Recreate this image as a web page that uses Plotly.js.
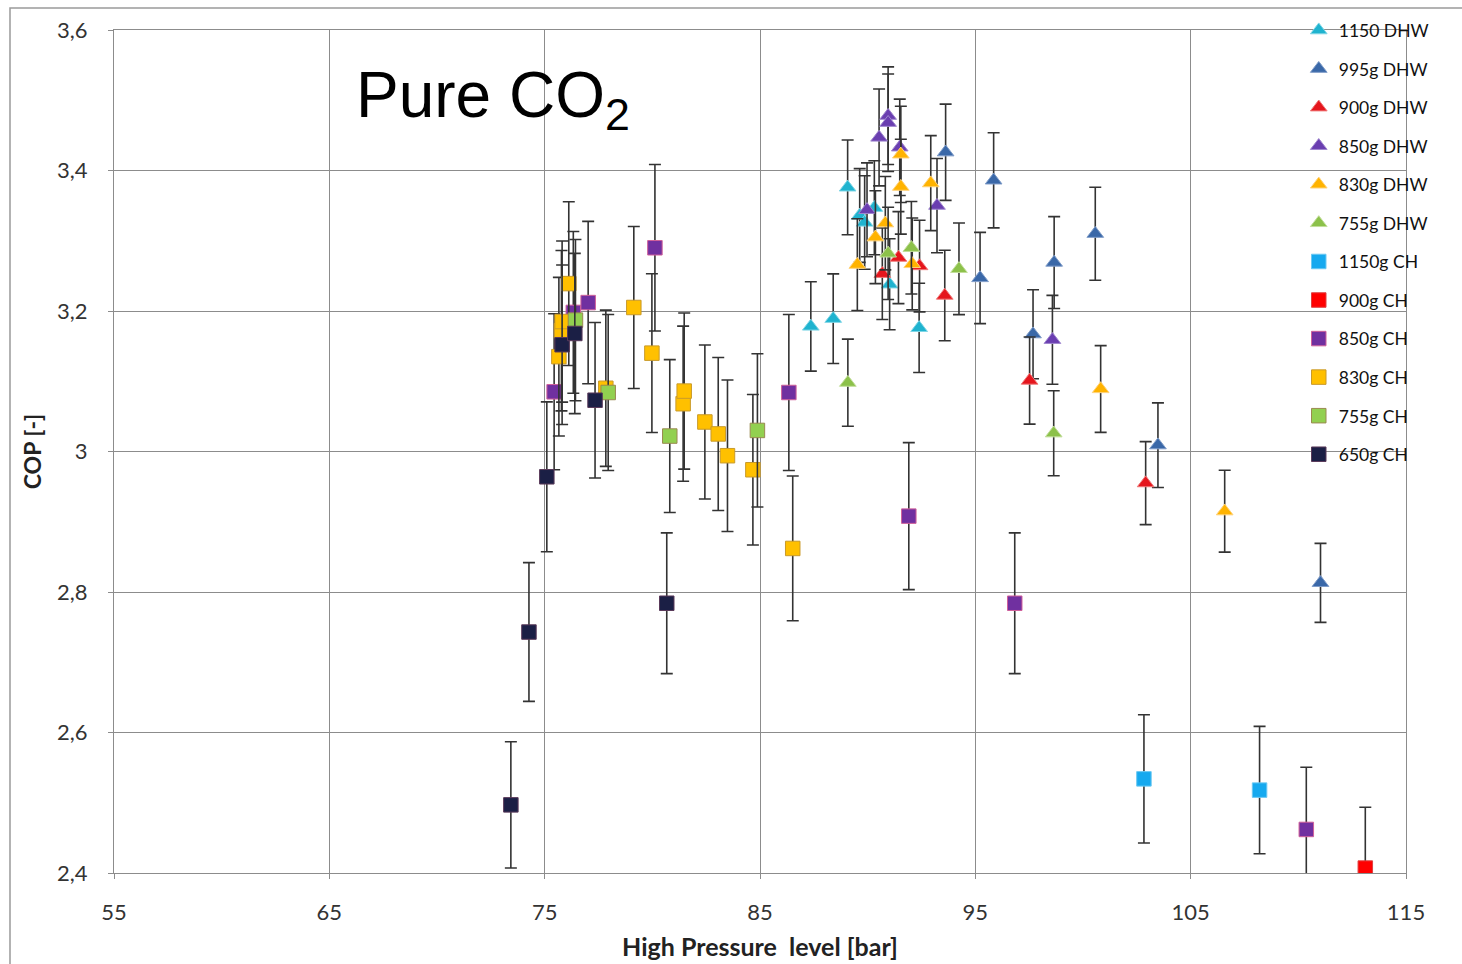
<!DOCTYPE html>
<html>
<head>
<meta charset="utf-8">
<script src="https://cdn.plot.ly/plotly-3.0.1.min.js"></script>
<style>
  html, body { margin: 0; padding: 0; background: #ffffff; }
  #chart { width: 1462px; height: 964px; }
</style>
</head>
<body>
<div id="chart"></div>
<script>
// High-pressure level [bar] and COP for each refrigerant charge / operating mode
const dhw1150_p   = [87.36, 88.40, 89.07, 89.63, 89.86, 90.31, 91.02, 92.39];
const dhw1150_cop = [3.178, 3.189, 3.376, 3.336, 3.326, 3.347, 3.238, 3.176];

const dhw995_p   = [93.62, 95.22, 95.85, 97.68, 98.66, 100.57, 103.48, 111.03];
const dhw995_cop = [3.426, 3.247, 3.386, 3.167, 3.269, 3.310, 3.009, 2.813];

const dhw900_p   = [90.68, 91.43, 92.41, 93.58, 97.52, 102.91];
const dhw900_cop = [3.253, 3.276, 3.264, 3.222, 3.101, 2.955];

const dhw850_p   = [89.97, 90.53, 90.95, 90.95, 91.49, 93.22, 98.58];
const dhw850_cop = [3.344, 3.447, 3.478, 3.468, 3.433, 3.350, 3.159];

const dhw830_p   = [89.52, 90.36, 90.82, 91.54, 91.54, 92.07, 92.93, 100.82, 106.58];
const dhw830_cop = [3.266, 3.305, 3.325, 3.423, 3.377, 3.267, 3.382, 3.089, 2.915];

const dhw755_p   = [89.08, 90.95, 92.03, 94.24, 98.64];
const dhw755_cop = [3.098, 3.282, 3.290, 3.260, 3.026];

const ch1150_p   = [102.83, 108.20];
const ch1150_cop = [2.534, 2.518];

const ch900_p   = [113.11];
const ch900_cop = [2.407];

const ch850_p   = [75.44, 76.33, 77.02, 80.12, 86.34, 91.91, 96.83, 110.37];
const ch850_cop = [3.085, 3.198, 3.212, 3.290, 3.084, 2.908, 2.784, 2.462];

const ch830_p   = [75.66, 75.78, 75.81, 76.12, 77.84, 79.14, 79.98, 81.43, 81.48, 82.44, 83.06, 83.49, 84.67, 86.52];
const ch830_cop = [3.135, 3.172, 3.185, 3.239, 3.090, 3.205, 3.140, 3.068, 3.086, 3.042, 3.025, 2.994, 2.974, 2.862];

const ch755_p   = [76.43, 77.95, 80.81, 84.88];
const ch755_cop = [3.187, 3.084, 3.022, 3.030];

const ch650_p   = [73.43, 74.27, 75.10, 75.81, 76.40, 77.34, 80.67];
const ch650_cop = [2.497, 2.743, 2.964, 3.152, 3.168, 3.073, 2.784];

// Measurement uncertainty, percent of COP
const DHW_ERR_PCT = 2.0;
const CH_ERR_PCT = 3.6;

// Axis ticks
const xTicks = [55, 65, 75, 85, 95, 105, 115];
const yTicks = [2.4, 2.6, 2.8, 3.0, 3.2, 3.4, 3.6];
const yTickText = ['2,4', '2,6', '2,8', '3', '3,2', '3,4', '3,6'];

const series = [
  { name: '1150 DHW', p: dhw1150_p, cop: dhw1150_cop, sym: 'triangle-up', fill: '#1fb3cf', edge: '#7fd6e6', err: DHW_ERR_PCT },
  { name: '995g DHW', p: dhw995_p,  cop: dhw995_cop,  sym: 'triangle-up', fill: '#3a68a8', edge: '#7f9cc8', err: DHW_ERR_PCT },
  { name: '900g DHW', p: dhw900_p,  cop: dhw900_cop,  sym: 'triangle-up', fill: '#e5161d', edge: '#f07a7a', err: DHW_ERR_PCT },
  { name: '850g DHW', p: dhw850_p,  cop: dhw850_cop,  sym: 'triangle-up', fill: '#6a3eb0', edge: '#9f86cf', err: DHW_ERR_PCT },
  { name: '830g DHW', p: dhw830_p,  cop: dhw830_cop,  sym: 'triangle-up', fill: '#ffb300', edge: '#ffd27a', err: DHW_ERR_PCT },
  { name: '755g DHW', p: dhw755_p,  cop: dhw755_cop,  sym: 'triangle-up', fill: '#8cc14a', edge: '#c2de9a', err: DHW_ERR_PCT },
  { name: '1150g CH', p: ch1150_p,  cop: ch1150_cop,  sym: 'square', fill: '#16a9ef', edge: '#6cc8f2', err: CH_ERR_PCT },
  { name: '900g CH',  p: ch900_p,   cop: ch900_cop,   sym: 'square', fill: '#ff0000', edge: '#e04040', err: CH_ERR_PCT },
  { name: '850g CH',  p: ch850_p,   cop: ch850_cop,   sym: 'square', fill: '#7030a0', edge: '#d0609a', err: CH_ERR_PCT },
  { name: '830g CH',  p: ch830_p,   cop: ch830_cop,   sym: 'square', fill: '#ffc000', edge: '#c99a2a', err: CH_ERR_PCT },
  { name: '755g CH',  p: ch755_p,   cop: ch755_cop,   sym: 'square', fill: '#92d050', edge: '#9a8a50', err: CH_ERR_PCT },
  { name: '650g CH',  p: ch650_p,   cop: ch650_cop,   sym: 'square', fill: '#1b1f45', edge: '#5a3a5a', err: CH_ERR_PCT }
];

const traces = series.map((s, i) => ({
  type: 'scatter',
  mode: 'markers',
  name: s.name,
  legendgroup: 'g' + i,
  x: s.p,
  y: s.cop,
  marker: {
    symbol: s.sym,
    size: 14.5,
    color: s.fill,
    line: { color: s.edge, width: 1 }
  },
  error_y: {
    type: 'percent',
    value: s.err,
    color: '#333333',
    thickness: 1.6,
    width: 6
  },
  hoverinfo: 'x+y+name'
}));

const gridColor = '#8c8c8c';
const fontFamily = 'Lato, "Open Sans", sans-serif';
const tickFont = { family: fontFamily, size: 22, color: '#333333' };

const layout = {
  width: 1462,
  height: 964,
  paper_bgcolor: '#ffffff',
  plot_bgcolor: '#ffffff',
  margin: { l: 114, r: 56, t: 27, b: 91, pad: 0 },
  showlegend: true,
  legend: {
    x: 0.917, xanchor: 'left',
    y: 1.021, yanchor: 'top',
    bgcolor: 'rgba(0,0,0,0)',
    borderwidth: 0,
    tracegroupgap: 12.8,
    traceorder: 'grouped',
    itemclick: false,
    font: { family: fontFamily, size: 17.5, color: '#111111' }
  },
  xaxis: {
    range: [55, 115],
    tickvals: xTicks,
    ticktext: xTicks.map(String),
    showgrid: true,
    gridcolor: gridColor,
    gridwidth: 1,
    zeroline: false,
    showline: true,
    linecolor: gridColor,
    linewidth: 1,
    mirror: true,
    ticks: 'outside',
    ticklen: 5,
    tickcolor: gridColor,
    ticklabelstandoff: 15,
    tickfont: tickFont,
    title: {
      text: '<b>High Pressure  level [bar]</b>',
      font: { family: fontFamily, size: 25, color: '#222222' },
      standoff: 14
    }
  },
  yaxis: {
    range: [2.4, 3.6],
    tickvals: yTicks,
    ticktext: yTickText,
    showgrid: true,
    gridcolor: gridColor,
    gridwidth: 1,
    zeroline: false,
    showline: true,
    linecolor: gridColor,
    linewidth: 1,
    mirror: true,
    ticks: 'outside',
    ticklen: 5,
    tickcolor: gridColor,
    ticklabelstandoff: 16,
    tickfont: tickFont,
    title: {
      text: '<b>COP [-]</b>',
      font: { family: fontFamily, size: 23, color: '#222222' },
      standoff: 9
    }
  },
  annotations: [{
    xref: 'paper', yref: 'paper',
    x: 0.1855, y: 0.918,
    xanchor: 'left', yanchor: 'middle',
    showarrow: false,
    text: 'Pure CO<sub>2</sub>',
    font: { family: '"Liberation Sans", Arial, sans-serif', size: 64, color: '#000000' }
  }],
  shapes: [{
    // chart-area frame
    type: 'rect', xref: 'paper', yref: 'paper',
    x0: -0.0805, x1: 1.05, y0: -0.12, y1: 1.026,
    line: { color: '#9a9a9a', width: 1.5 },
    fillcolor: 'rgba(0,0,0,0)',
    layer: 'below'
  }]
};

Plotly.newPlot('chart', traces, layout, { displayModeBar: false, staticPlot: true });
</script>
</body>
</html>
